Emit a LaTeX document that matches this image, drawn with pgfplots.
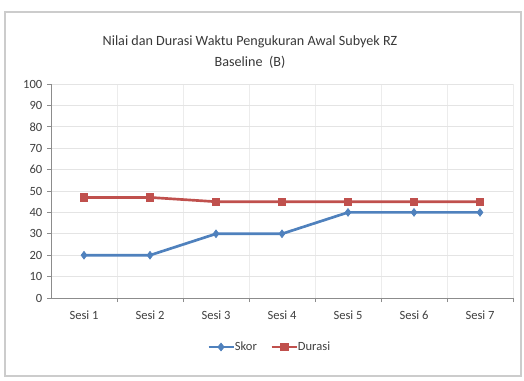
\documentclass[border=0pt]{standalone}
\usepackage{pgfplots}
\pgfplotsset{compat=1.18}
\usepackage{fontspec}
\setmainfont{Carlito}
\definecolor{skor}{HTML}{4F81BD}
\definecolor{durasi}{HTML}{C0504D}
\definecolor{gridc}{HTML}{E4E4E4}
\definecolor{axc}{HTML}{8C8C8C}
\begin{document}
\begin{tikzpicture}[x=0.75pt,y=0.75pt]
% page background and chart frame (units: px of the final image)
\fill[white] (-51,-82) rectangle (473,298);
\draw[gray!40,line width=1.5pt] (-46,-78) rectangle (470,286);
\node[font=\fontsize{10.6}{15.5}\selectfont,align=center,text=black!78] at (199,246)
  {Nilai dan Durasi Waktu Pengukuran Awal Subyek RZ\\Baseline \ (B)};
\begin{axis}[
  at={(0,0)}, anchor=origin,
  scale only axis, width=346.5pt, height=160.5pt,
  xmin=0.5, xmax=7.5, ymin=0, ymax=100,
  axis x line*=bottom, axis y line*=left,
  axis line style={axc, line width=0.6pt},
  xtick={1,...,7},
  xticklabels={Sesi 1,Sesi 2,Sesi 3,Sesi 4,Sesi 5,Sesi 6,Sesi 7},
  major x tick style={draw=none},
  minor xtick={1.5,2.5,...,7.5},
  minor x tick style={axc, line width=0.6pt},
  minor tick length=3pt,
  xminorgrids, minor grid style={gridc!70, line width=0.4pt},
  ytick={0,10,...,100},
  ymajorgrids, major grid style={gridc, line width=0.5pt},
  major y tick style={axc, line width=0.6pt},
  major tick length=3pt,
  tick align=outside,
  tick label style={font=\fontsize{9.4}{10}\selectfont, text=black!75},
  /pgf/number format/assume math mode=true,
  xticklabel style={yshift=-3pt},
  yticklabel style={xshift=0pt},
  legend columns=2,
  legend style={at={(0.474,-0.229)}, anchor=center, draw=none, fill=none,
    font=\fontsize{9.4}{10}\selectfont, text=black!75,
    /tikz/every even column/.append style={column sep=8pt},
    /tikz/every odd column/.append style={column sep=-2pt}},
  legend cell align=left,
  legend image post style={xscale=1.1},
]
\addplot[skor, line width=2pt, mark=diamond*, mark size=2.9pt,
  mark options={solid, fill=skor, line width=0.5pt}]
  coordinates {(1,20) (2,20) (3,30) (4,30) (5,40) (6,40) (7,40)};
\addlegendentry{Skor}
\addplot[durasi, line width=2pt, mark=square*, mark size=2.8pt,
  mark options={solid, fill=durasi, line width=0.5pt}]
  coordinates {(1,47) (2,47) (3,45) (4,45) (5,45) (6,45) (7,45)};
\addlegendentry{Durasi}
\end{axis}
\end{tikzpicture}
\end{document}
